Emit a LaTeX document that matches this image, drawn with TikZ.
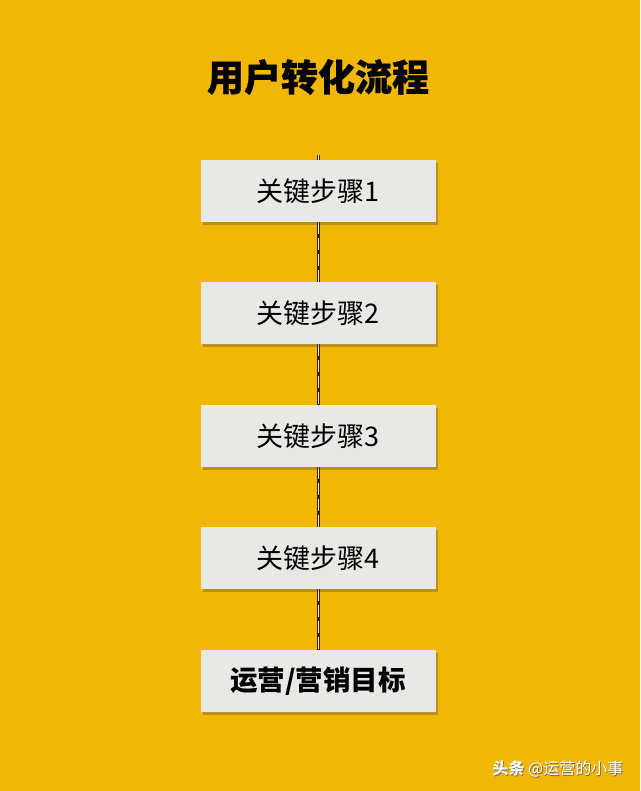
\documentclass[tikz,border=0pt]{standalone}
\usepackage{fontspec}
\setmainfont{Noto Sans CJK SC}
\usetikzlibrary{shadows,backgrounds}
\definecolor{flowyellow}{RGB}{242,183,5}
\definecolor{flowbox}{RGB}{232,232,230}
\definecolor{flowline}{RGB}{60,25,12}

\begin{document}
\begin{tikzpicture}[x=1pt, y=-1pt]
                \useasboundingbox (0,0) rectangle (640,791);

                % Title
                \node[font=\bfseries\addfontfeatures{FakeBold=0.6}\fontsize{37}{42}\selectfont] (title) at (318,77) {用户转化流程};

                % Key steps
                \foreach \i/\y in {1/191,2/313,3/436,4/558} {
                    \node[fill=flowbox, minimum width=235pt, minimum height=62pt, inner sep=0pt,
                          drop shadow={shadow xshift=2pt, shadow yshift=-3pt, opacity=0.35, fill=black!70},
                          font=\fontsize{27}{32}\selectfont] (s\i) at (318,\y) {关键步骤\i};
                }

                % Goal
                \node[fill=flowbox, minimum width=235pt, minimum height=62pt, inner sep=0pt,
                      drop shadow={shadow xshift=2pt, shadow yshift=-3pt, opacity=0.35, fill=black!70},
                      font=\bfseries\fontsize{27.5}{32}\selectfont] (goal) at (318,681) {运营/营销目标};

                % Connections
                \coordinate (top) at (318,155);
                \begin{scope}[on background layer]
                    \fill[flowyellow] (0,0) rectangle (640,791);
                    \foreach \a/\b in {top/s1,s1/s2,s2/s3,s3/s4,s4/goal} {
                        \draw[flowline, line width=3pt] (\a) -- (\b);
                        \draw[white!80!flowyellow, line width=0.7pt, dash pattern=on 12pt off 4pt] (\a) -- (\b);
                    }
                \end{scope}

                % Watermark
                \node[black!60, font=\fontsize{16}{19}\selectfont] (wmshadow) at (558.8,769.8) {\textbf{头条} @运营的小事};
                \node[white, font=\fontsize{16}{19}\selectfont] (wm) at (558,769) {\textbf{头条} @运营的小事};
\end{tikzpicture}
\end{document}
